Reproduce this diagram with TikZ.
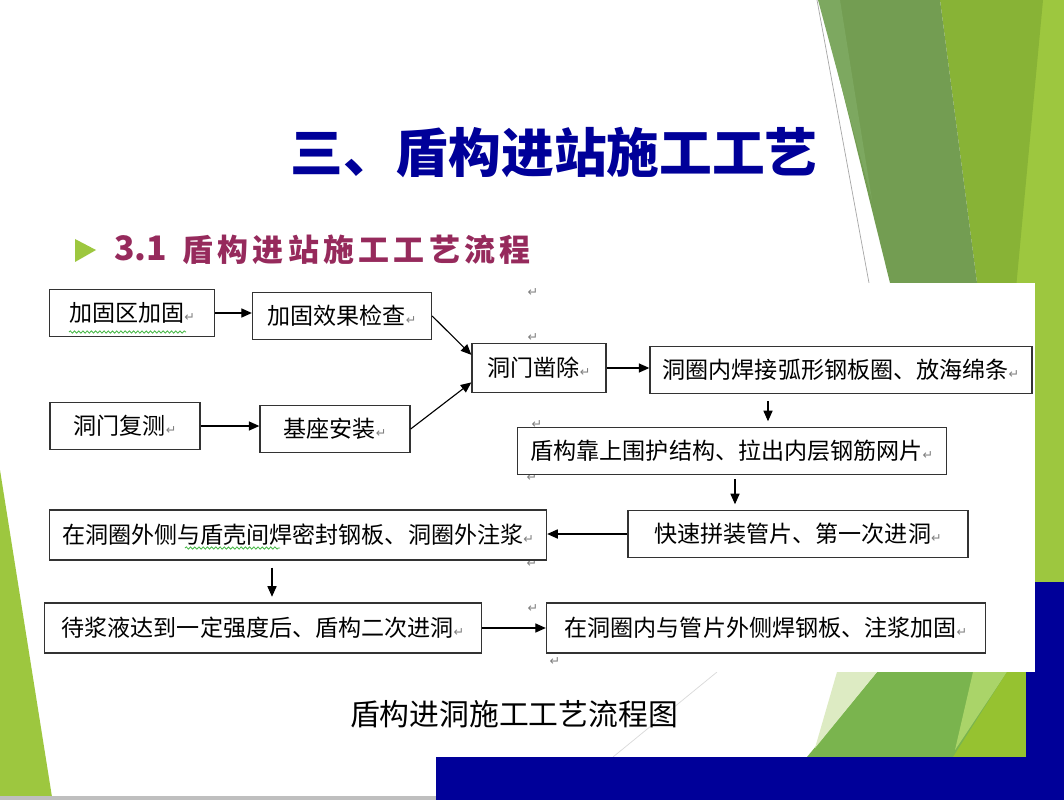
\documentclass[tikz,border=0pt]{standalone}
\usepackage{fontspec}
\usetikzlibrary{arrows.meta,decorations.pathmorphing}
\newfontfamily\cjk{Noto Sans CJK SC}
\newfontfamily\symf{DejaVu Sans}
\newfontfamily\subf[LetterSpace=14]{Noto Sans CJK SC}
\definecolor{navy}{RGB}{0,0,153}
\definecolor{plum}{RGB}{150,42,92}
\definecolor{leafA}{RGB}{157,199,63}
\definecolor{leafB}{RGB}{136,179,54}
\definecolor{leafC}{RGB}{115,157,82}
\definecolor{leafD}{RGB}{125,168,96}
\definecolor{leafE}{RGB}{122,180,78}
\definecolor{leafF}{RGB}{221,235,195}
\definecolor{leafG}{RGB}{170,212,105}
\definecolor{leafH}{RGB}{150,194,48}
\definecolor{squig}{RGB}{70,185,70}
\newcommand{\parmark}{{\color{gray}\symf\fontsize{9}{9}\selectfont ↵}}
\begin{document}
\begin{tikzpicture}[x=0.025cm,y=-0.025cm,
  box/.style={draw=black!80,line width=0.9pt,fill=white,minimum height=1.175cm,inner sep=0pt,font=\cjk\fontsize{16.4}{18}\selectfont},
  arr/.style={-{Triangle[length=7.5pt,width=6.5pt]},line width=0.8pt},
  pmk/.style={inner sep=0pt,font=\symf\fontsize{9}{9}\selectfont,text=gray},
  wavy/.style={draw=squig,line width=0.6pt,decorate,decoration={snake,amplitude=0.8pt,segment length=3pt}}]
\useasboundingbox (0,0) rectangle (1064,800);
\fill[white] (0,0) rectangle (1064,800);
\fill[leafA] (0,470) -- (0,797) -- (52,797) -- cycle;
\fill[black!25] (0,796) rectangle (436,800);
\fill[leafA] (980,0) rectangle (1064,582);
\fill[leafB] (940,0) -- (1043,0) -- (1000,459) -- cycle;
\fill[leafC] (820,0) -- (940,0) -- (977,283) -- (890,283) -- cycle;
\fill[leafD] (818,0) -- (840,0) -- (872,200) -- cycle;
\draw[black!35,line width=0.5pt] (817,0) -- (869,283);
\fill[leafE] (807,757) -- (877,672) -- (1026,672) -- (1026,757) -- cycle;
\fill[leafF] (837,672) -- (877,672) -- (815,748) -- cycle;
\fill[leafG] (973,672) -- (1007,672) -- (955,750) -- cycle;
\fill[leafH] (1007,672) -- (1026,672) -- (1026,757) -- (953,757) -- cycle;
\draw[black!15,line width=0.5pt] (613,757) -- (717,672);
\fill[navy] (1026,582) rectangle (1064,800);
\fill[navy] (436,757) rectangle (1064,800);
\fill[white] (40,283) rectangle (1035,672);
\node[font=\cjk\bfseries\fontsize{37.5}{40}\selectfont,text=navy] (t1) at (554,152) {三、盾构进站施工工艺};
\fill[leafA] (75,239) -- (75,262) -- (96,250) -- cycle;
\node[font=\cjk\bfseries\fontsize{24}{26}\selectfont,text=plum,anchor=west,inner sep=0pt] (s1) at (114,248) {3.1};
\node[font=\subf\bfseries\fontsize{22}{24}\selectfont,text=plum,anchor=west,inner sep=0pt] (s2) at (182,250) {盾构进站施工工艺流程};
\node[pmk] (p1) at (533,293) {↵};
\node[pmk] (p2) at (533,338) {↵};
\node[pmk] (p3) at (537,425) {↵};
\node[pmk] (p4) at (532,478) {↵};
\node[pmk] (p5) at (532,564) {↵};
\node[pmk] (p6) at (533,609) {↵};
\node[pmk] (p7) at (555,662) {↵};
\node[box,minimum width=4.125cm] (b1) at (132,313) {加固区加固\parmark};
\node[box,minimum width=4.475cm] (b2) at (342,316) {加固效果检查\parmark};
\node[box,minimum width=3.35cm,minimum height=1.225cm] (b3) at (539,368) {洞门凿除\parmark};
\node[box,minimum width=9.55cm] (b4) at (841,370) {洞圈内焊接弧形钢板圈、放海绵条\parmark};
\node[box,minimum width=3.75cm] (b5) at (125,426) {洞门复测\parmark};
\node[box,minimum width=3.75cm] (b6) at (335,429) {基座安装\parmark};
\node[box,minimum width=10.725cm] (b7) at (732,451) {盾构靠上围护结构、拉出内层钢筋网片\parmark};
\node[box,minimum width=12.425cm,minimum height=1.25cm] (b8) at (298,535) {在洞圈外侧与盾壳间焊密封钢板、洞圈外注浆\parmark};
\node[box,minimum width=8.5cm] (b9) at (798,534) {快速拼装管片、第一次进洞\parmark};
\node[box,minimum width=10.925cm,minimum height=1.25cm] (b10) at (263,628) {待浆液达到一定强度后、盾构二次进洞\parmark};
\node[box,minimum width=10.975cm,minimum height=1.25cm] (b11) at (766,628) {在洞圈内与管片外侧焊钢板、注浆加固\parmark};
\draw[wavy] (69,332) -- (186,332);
\draw[wavy] (185,548) -- (280,548);
\coordinate (c1) at (768,0);
\coordinate (c2) at (735,0);
\coordinate (c3) at (272,0);
\draw[arr] (b1.east) -- (b2.west |- b1.east);
\draw[arr] (b5.east) -- (b6.west |- b5.east);
\draw[arr] (b2.east) -- (b3.169);
\draw[arr] (b6.east) -- (b3.192);
\draw[arr] (b3.east) -- (b4.west |- b3.east);
\draw[arr,shorten <=5pt,shorten >=4pt] (c1 |- b4.south) -- (c1 |- b7.north);
\draw[arr,shorten <=3pt,shorten >=4pt] (c2 |- b7.south) -- (c2 |- b9.north);
\draw[arr] (b9.west) -- (b8.east |- b9.west);
\draw[arr,shorten <=5pt,shorten >=4pt] (c3 |- b8.south) -- (c3 |- b10.north);
\draw[arr] (b10.east) -- (b11.west |- b10.east);
\node[font=\cjk\fontsize{21.2}{23}\selectfont] (cap) at (514,714) {盾构进洞施工工艺流程图};
\end{tikzpicture}
\end{document}
